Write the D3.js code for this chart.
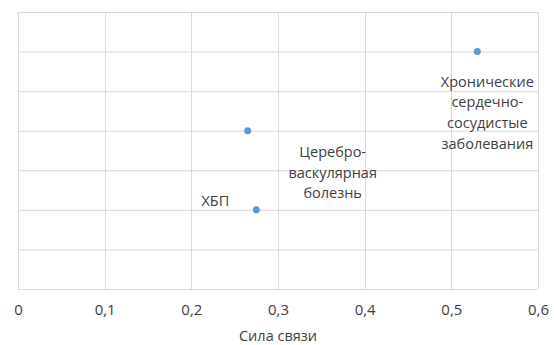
<!DOCTYPE html>
<html>
<head>
<meta charset="utf-8">
<script src="https://cdn.jsdelivr.net/npm/d3@7"></script>
<style>
  body { margin: 0; background: #fff; }
  text { font-family: "Open Sans", sans-serif; }
</style>
</head>
<body>
<div id="chart"></div>
<script>
const width = 554;
const height = 345;

// data
const names = [["Хронические", "сердечно-", "сосудистые", "заболевания"], ["Церебро-", "васкулярная", "болезнь"], ["ХБП"]];
const strength = [0.53, 0.265, 0.275];
const level = [6, 4, 2];
const xTicks = [0, 0.1, 0.2, 0.3, 0.4, 0.5, 0.6];
const yTicks = [0, 1, 2, 3, 4, 5, 6, 7];
const xTitle = "Сила связи";

// label offsets relative to the point (dx, dy of first line centre)
const labelPos = [[10, 30], [85, 21], [-41, -9]];

const margin = { top: 12, right: 16, bottom: 56, left: 18 };

const svg = d3.select("#chart").append("svg")
    .attr("width", width)
    .attr("height", height);

const x = d3.scaleLinear().domain([0, 0.6]).range([margin.left, width - margin.right]);
const y = d3.scaleLinear().domain([0, 7]).range([height - margin.bottom, margin.top]);

// horizontal grid
svg.append("g").selectAll("line")
    .data(yTicks)
    .enter().append("line")
    .attr("x1", x(0)).attr("x2", x(0.6))
    .attr("y1", d => y(d) + 0.5).attr("y2", d => y(d) + 0.5)
    .attr("stroke", "#d9d9d9")
    .attr("stroke-width", 1);

// vertical grid
svg.append("g").selectAll("line")
    .data(xTicks)
    .enter().append("line")
    .attr("x1", d => Math.round(x(d)) + 0.5).attr("x2", d => Math.round(x(d)) + 0.5)
    .attr("y1", y(7)).attr("y2", y(0))
    .attr("stroke", "#d9d9d9")
    .attr("stroke-width", 1);

// x axis tick labels
const fmt = d => String(d).replace(".", ",");
const xAxis = d3.axisBottom(x).tickValues(xTicks).tickFormat(fmt).tickSize(0).tickPadding(15);
const gx = svg.append("g")
    .attr("transform", `translate(0,${y(0)})`)
    .call(xAxis);
gx.select(".domain").remove();
gx.selectAll("text")
    .style("font-family", "Open Sans")
    .style("font-size", "15px")
    .attr("fill", "#404040");

svg.append("text")
    .attr("x", (x(0) + x(0.6)) / 2)
    .attr("y", 341)
    .attr("text-anchor", "middle")
    .style("font-size", "14.5px")
    .attr("fill", "#404040")
    .text(xTitle);

// points
svg.append("g").selectAll("circle")
    .data(strength)
    .enter().append("circle")
    .attr("cx", d => x(d))
    .attr("cy", (d, i) => y(level[i]))
    .attr("r", 3.5)
    .attr("fill", "#5b9bd5");

// labels
const lab = svg.append("g").selectAll("text")
    .data(names)
    .enter().append("text")
    .attr("text-anchor", "middle")
    .style("font-size", "14.5px")
    .attr("fill", "#404040")
    .attr("transform", (d, i) => `translate(${x(strength[i]) + labelPos[i][0]},${y(level[i]) + labelPos[i][1] + 5})`);

lab.selectAll("tspan")
    .data(d => d)
    .enter().append("tspan")
    .attr("x", 0)
    .attr("dy", (d, i) => i === 0 ? 0 : 20.8)
    .text(d => d);
</script>
</body>
</html>
